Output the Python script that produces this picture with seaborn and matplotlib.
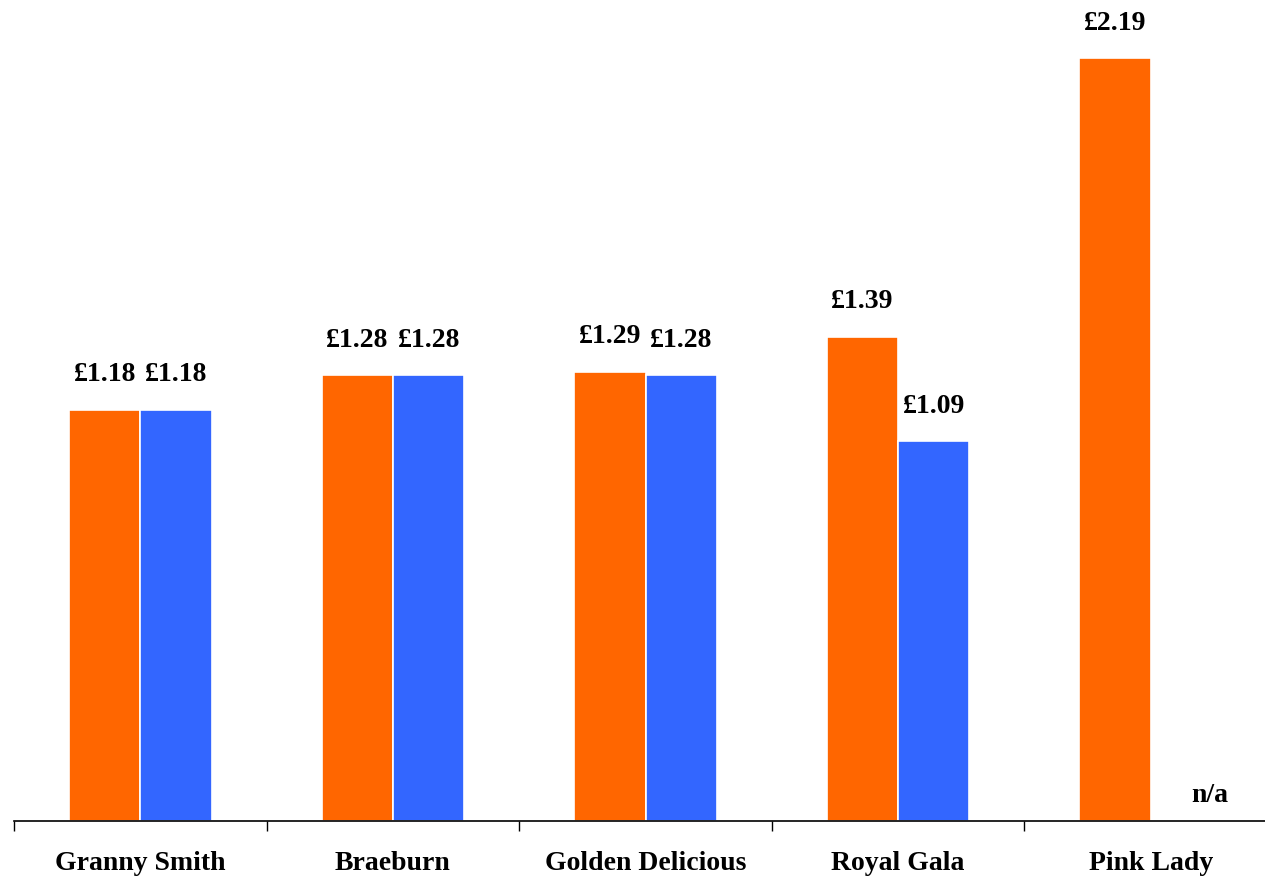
import numpy as np
import pandas as pd
import matplotlib
matplotlib.use("Agg")
import matplotlib.pyplot as plt
import seaborn as sns

# apple prices per kg, two retailers (no data for Pink Lady at the second one)
varieties = ["Granny Smith", "Braeburn", "Golden Delicious", "Royal Gala", "Pink Lady"]
series_a = [1.18, 1.28, 1.29, 1.39, 2.19]
series_b = [1.18, 1.28, 1.28, 1.09, np.nan]
series_names = ["Series A", "Series B"]
colors = ["#FF6600", "#3366FF"]

df = pd.DataFrame({
    "variety": varieties * 2,
    "price": series_a + series_b,
    "series": [series_names[0]] * len(varieties) + [series_names[1]] * len(varieties),
})

sns.set_style("white", {"xtick.bottom": True})
plt.rcParams["font.family"] = ["Liberation Serif", "DejaVu Serif"]
plt.rcParams["font.weight"] = "bold"
plt.rcParams["text.color"] = "black"
plt.rcParams["xtick.color"] = "black"

fig = plt.figure(figsize=(12.65, 8.79), dpi=100)
ax = fig.add_axes([14 / 1265, 57 / 879, 1263 / 1265, 822 / 879])

sns.barplot(data=df, x="variety", y="price", hue="series", order=varieties,
            hue_order=series_names, palette=colors, width=0.565,
            edgecolor="white", linewidth=1.2, saturation=1, ax=ax, legend=False)

for cont in ax.containers:
    labels = [f"£{b.get_height():.2f}" if np.isfinite(b.get_height()) else "" for b in cont]
    ax.bar_label(cont, labels=labels, padding=17, fontsize=20, fontweight="bold")

# missing value marker for Pink Lady, second series
ax.text(4.235, 0.04, "n/a", ha="center", va="bottom", fontsize=20, fontweight="bold")

ax.set_xlim(-0.5, len(varieties) - 0.5)
ax.set_ylim(0, 2.36)
ax.set_xlabel("")
ax.set_ylabel("")
ax.set_yticks([])
ax.set_xticks(range(len(varieties)))
ax.set_xticklabels(varieties, fontsize=20, fontweight="bold")
ax.set_xticks(np.arange(-0.5, len(varieties)), minor=True)
ax.tick_params(axis="x", which="major", length=0, pad=21)
ax.tick_params(axis="x", which="minor", length=7, width=1, direction="out", color="black", bottom=True)
for s in ["top", "right", "left"]:
    ax.spines[s].set_visible(False)
ax.spines["bottom"].set_color("black")
ax.spines["bottom"].set_linewidth(1.2)

plt.savefig("out.png", dpi=100)
